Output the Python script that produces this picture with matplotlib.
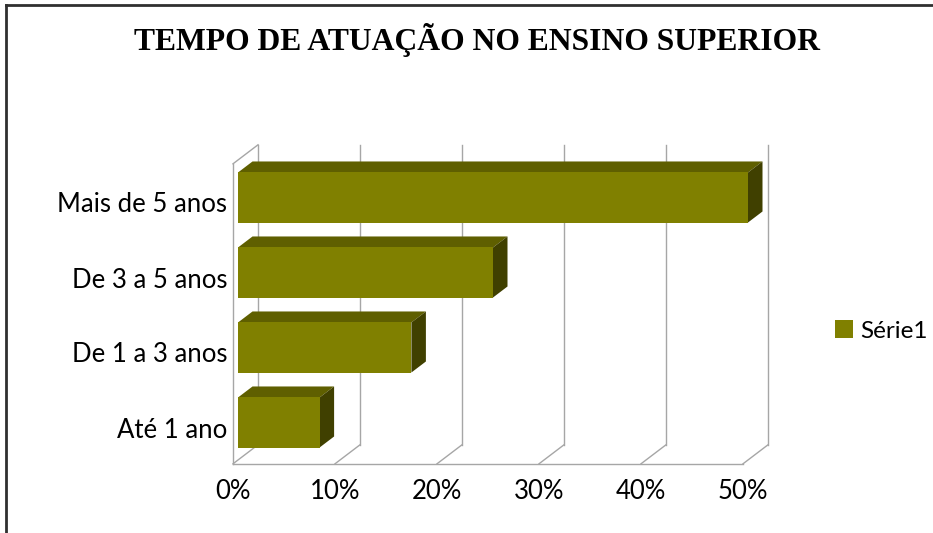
import matplotlib.pyplot as plt
from matplotlib.patches import Polygon
from matplotlib.transforms import offset_copy, IdentityTransform
import numpy as np

categorias = ['Até 1 ano', 'De 1 a 3 anos', 'De 3 a 5 anos', 'Mais de 5 anos']
valores = [8, 17, 25, 50]
ticks_x = [0, 10, 20, 30, 40, 50]
rotulos_x = ['0%', '10%', '20%', '30%', '40%', '50%']
titulo = 'TEMPO DE ATUAÇÃO NO ENSINO SUPERIOR'
serie = 'Série1'

cor_frente = '#808000'
cor_topo = '#5f5f00'
cor_lado = '#404000'
cor_grade = '#a6a6a6'

# profundidade do efeito 3D, em pixels (dx, dy) para a parede inteira
prof = np.array([25.0, 19.0])
d_frente = -0.2   # plano da frente da parede em relação ao plano das barras
d_fundo = 0.8     # plano do fundo
d_barra = 0.58    # fundo das barras

W, H = 933, 533
fig = plt.figure(figsize=(W / 100, H / 100), dpi=100)
ax = fig.add_axes([238 / W, 73 / H, 510 / W, 300 / H])
ax.set_xlim(0, 50)
ax.set_ylim(-0.5, 3.5)
ax.axis('off')

y = np.arange(len(categorias))


def proj(x, yy, d):
    p = ax.transData.transform((x, yy))
    return p + d * prof


def linha(p0, p1):
    ax.add_line(plt.Line2D([p0[0], p1[0]], [p0[1], p1[1]], transform=IdentityTransform(),
                           color=cor_grade, lw=1.0, zorder=1, clip_on=False))


# parede lateral e piso
y0, y1 = ax.get_ylim()
linha(proj(0, y0, d_frente), proj(0, y1, d_frente))
linha(proj(0, y1, d_frente), proj(0, y1, d_fundo))
linha(proj(0, y0, d_frente), proj(50, y0, d_frente))
for t in ticks_x:
    linha(proj(t, y0, d_frente), proj(t, y0, d_fundo))
    linha(proj(t, y0, d_fundo), proj(t, y1, d_fundo))

# barras: face frontal
alt = 0.667
ax.barh(y, valores, height=alt, color=cor_frente, zorder=3, clip_on=False)

# faces superior e lateral
for yi, v in zip(y, valores):
    a = proj(0, yi + alt / 2, 0)
    b = proj(v, yi + alt / 2, 0)
    c = proj(v, yi - alt / 2, 0)
    topo = [a, b, proj(v, yi + alt / 2, d_barra), proj(0, yi + alt / 2, d_barra)]
    lado = [b, c, proj(v, yi - alt / 2, d_barra), proj(v, yi + alt / 2, d_barra)]
    ax.add_patch(Polygon(topo, closed=True, facecolor=cor_topo, edgecolor='none',
                         transform=IdentityTransform(), zorder=2, clip_on=False))
    ax.add_patch(Polygon(lado, closed=True, facecolor=cor_lado, edgecolor='none',
                         transform=IdentityTransform(), zorder=2, clip_on=False))

fonte = 'Lato'
tam = 18.5

# rótulos das categorias
tr_cat = offset_copy(ax.transData, fig=fig, x=-11, y=-15, units='dots')
for yi, nome in zip(y, categorias):
    ax.text(0, yi, nome, transform=tr_cat, ha='right', va='baseline',
            fontsize=tam, family=fonte)

# rótulos do eixo x, no plano da frente
tr_x = offset_copy(ax.transData, fig=fig, x=-5, y=-31.5, units='dots')
for t, r in zip(ticks_x, rotulos_x):
    ax.text(t, y0, r, transform=tr_x, ha='center', va='center',
            fontsize=tam, family=fonte)

fig.text(477 / W, 1 - 40 / H, titulo, ha='center', va='center',
         fontsize=22.8, fontweight='bold', family='Liberation Serif')

h = ax.containers[0]
fig.legend([h], [serie], loc='center left', bbox_to_anchor=(835 / W, 1 - 331 / H),
           frameon=False, prop={'family': fonte, 'size': 17.5},
           handlelength=0.75, handleheight=0.75, handletextpad=0.3, borderpad=0,
           borderaxespad=0)

# moldura (esquerda e topo)
fig.add_artist(plt.Line2D([5.5 / W, 5.5 / W], [0, 1 - 5 / H], color='#303030', lw=2,
                          transform=fig.transFigure))
fig.add_artist(plt.Line2D([5.5 / W, 1], [1 - 5 / H, 1 - 5 / H], color='#303030', lw=2,
                          transform=fig.transFigure))

fig.savefig('out.png', dpi=100)
